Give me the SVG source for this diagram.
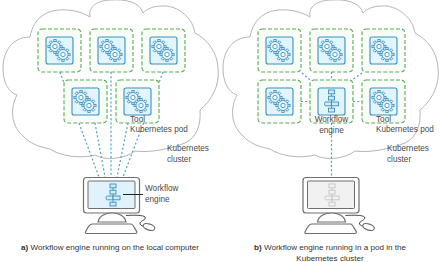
<svg xmlns="http://www.w3.org/2000/svg" xmlns:xlink="http://www.w3.org/1999/xlink" width="441" height="262" viewBox="0 0 441 262">
<style>
text{font-family:"Liberation Sans",Arial,sans-serif;font-size:8.2px;fill:#4a4a4a}
.cap{font-size:8.1px;fill:#333}
.mid{text-anchor:middle}
.cloud{fill:#fff;stroke:#b5b5b5;stroke-width:1}
.link{fill:none;stroke:#4a9fcb;stroke-width:1.2;stroke-dasharray:2 2.2}
.pod{fill:#f8fcf7;stroke:#5aa95a;stroke-width:1.1;stroke-dasharray:4 2}
.icon{fill:#e2f4fc;stroke:#3a90c0;stroke-width:1.1}
.g{fill:#e2f4fc;stroke:#3a90c0;stroke-width:.8}
.gh{fill:#fff;stroke:#3a90c0;stroke-width:.8}
.dev{fill:#fff;stroke:#6e6e6e;stroke-width:1.2}
.f{fill:#cfeaf8;stroke:#3a90c0;stroke-width:.9}
.fl{stroke:#3a90c0;stroke-width:.9}
.f0{fill:#f2f2f2;stroke:#c4c4c4;stroke-width:.9}
.fl0{stroke:#c4c4c4;stroke-width:.9}
</style>
<defs>
<path id="cloud" class="cloud" d="M30 37C12 37 3 52 3 68C3 82 8 92 17 95C10 108 11 125 22 135C30 144 40 147 50 149C60 156 80 159 95 155C105 161 125 159 135 151C150 153 170 149 185 143C197 137 201 125 200 110C212 100 220 85 218 68C217 52 208 40 195 33C192 15 175 5 162 6C153 6 147 9 143 13C140 2 125 -1 112 0C98 0 88 6 90 17C75 8 55 8 45 14C36 19 32 27 30 37Z"/>
<g id="tooth"><rect x="-1.1" y="-6.7" width="2.2" height="3" class="g"/></g>
<g id="gear">
<use xlink:href="#tooth"/><use xlink:href="#tooth" transform="rotate(45)"/><use xlink:href="#tooth" transform="rotate(90)"/><use xlink:href="#tooth" transform="rotate(135)"/><use xlink:href="#tooth" transform="rotate(180)"/><use xlink:href="#tooth" transform="rotate(225)"/><use xlink:href="#tooth" transform="rotate(270)"/><use xlink:href="#tooth" transform="rotate(315)"/>
<circle r="4.8" class="g"/><circle r="2.1" class="gh"/>
</g>
<g id="tool">
<rect x="-21.5" y="-21.5" width="43" height="43" rx="4" class="pod"/>
<rect x="-13.5" y="-13.5" width="27" height="27" rx="2" class="icon"/>
<use xlink:href="#gear" transform="translate(-4.5,-4) scale(1.05)"/>
<use xlink:href="#gear" transform="translate(3.5,4) scale(1.05)"/>
</g>
<g id="flow">
<path class="fl" d="M0 -10V10"/>
<rect x="-3" y="-11" width="6" height="3.8" class="f"/>
<rect x="-3" y="-4.8" width="6" height="3.8" class="f"/>
<rect x="-7" y="1" width="7" height="3.8" rx="1.5" class="f"/>
<rect x="0" y="1" width="7" height="3.8" class="f"/>
<rect x="-3" y="7.2" width="6" height="3.8" class="f"/>
</g>
<g id="flow-idle">
<path class="fl0" d="M0 -10V10"/>
<rect x="-3" y="-11" width="6" height="3.8" class="f0"/>
<rect x="-3" y="-4.8" width="6" height="3.8" class="f0"/>
<rect x="-7" y="1" width="7" height="3.8" rx="1.5" class="f0"/>
<rect x="0" y="1" width="7" height="3.8" class="f0"/>
<rect x="-3" y="7.2" width="6" height="3.8" class="f0"/>
</g>
<g id="computer">
<rect x="83.5" y="177.5" width="56" height="35.5" rx="3" class="dev"/>
<path class="dev" d="M98 222C99 216 105 213 112 213C119 213 125 216 126 222Z"/>
<path class="dev" d="M92 224H131C133 224 135 229 137 232C137 233 136 233.500 135 233.500H87C85.500 233.500 85 233 85.500 232C87 229 89 224 92 224Z"/>
<path fill="none" stroke="#333" stroke-width=".9" d="M126 215.500C134 215 143 215 145 217C147 220 139 221 140 224C141 226 143 226 145 226"/>
<ellipse cx="149" cy="227" rx="6" ry="3" transform="rotate(18 149 227)" class="dev"/>
</g>
</defs>

<g id="cloud-a"><use xlink:href="#cloud"/></g>
<g id="cloud-b"><use xlink:href="#cloud" transform="translate(220,0)"/></g>

<g id="connectors">
<path class="link" d="M60 72L99 177M95 123L105 177M111 72V177M128 123L117 177M163 72L123 177"/>
<path class="link" d="M302 73L310 80M331.500 72V80M362 73L352 80M301 101.500H310M353 101.500H362M331.500 123V177"/>
</g>

<g id="pod-a1"><use xlink:href="#tool" transform="translate(59.500,50.500)"/></g>
<g id="pod-a2"><use xlink:href="#tool" transform="translate(111.500,50.500)"/></g>
<g id="pod-a3"><use xlink:href="#tool" transform="translate(163.500,50.500)"/></g>
<g id="pod-a4"><use xlink:href="#tool" transform="translate(85.500,101.500)"/></g>
<g id="pod-a5"><use xlink:href="#tool" transform="translate(137.500,101.500)"/></g>
<g id="pod-b1"><use xlink:href="#tool" transform="translate(279.500,50.500)"/></g>
<g id="pod-b2"><use xlink:href="#tool" transform="translate(331.500,50.500)"/></g>
<g id="pod-b3"><use xlink:href="#tool" transform="translate(383.500,50.500)"/></g>
<g id="pod-b4"><use xlink:href="#tool" transform="translate(279.500,101.500)"/></g>
<g id="pod-b5"><use xlink:href="#tool" transform="translate(383.500,101.500)"/></g>
<g id="pod-engine">
<rect x="310" y="80" width="43" height="43" rx="4" class="pod"/>
<rect x="318" y="88" width="27" height="27" rx="2" class="icon"/>
<use xlink:href="#flow" transform="translate(331.500,101)"/>
<text class="mid" x="331.500" y="122">Workflow</text>
<text class="mid" x="331.500" y="132.500">engine</text>
</g>

<g id="labels-a">
<text x="130" y="122">Tool</text>
<text x="130" y="131.500">Kubernetes pod</text>
<text x="167" y="151">Kubernetes</text>
<text x="167" y="162">cluster</text>
</g>
<g id="labels-b">
<text x="376" y="122">Tool</text>
<text x="376" y="131.500">Kubernetes pod</text>
<text x="387" y="150.500">Kubernetes</text>
<text x="387" y="162">cluster</text>
</g>

<g id="computer-a">
<use xlink:href="#computer"/>
<rect x="88" y="181" width="47" height="27.500" rx="1" fill="#e0f2fb" stroke="#6e6e6e" stroke-width="1"/>
<use xlink:href="#flow" transform="translate(113,195)"/>
<path d="M123 194.500H143" stroke="#222" stroke-width="1"/>
<text x="145" y="191">Workflow</text>
<text x="145" y="202">engine</text>
</g>
<g id="computer-b">
<use xlink:href="#computer" transform="translate(219.500,0)"/>
<rect x="307.500" y="181" width="47" height="27.500" rx="1" fill="#f1f1f1" stroke="#6e6e6e" stroke-width="1"/>
<use xlink:href="#flow-idle" transform="translate(332,195)"/>
</g>

<g id="captions">
<text class="cap" x="21" y="250"><tspan font-weight="bold">a)</tspan> Workflow engine running on the local computer</text>
<text class="cap mid" x="330" y="250"><tspan font-weight="bold">b)</tspan> Workflow engine running in a pod in the</text>
<text class="cap mid" x="330" y="261">Kubernetes cluster</text>
</g>
</svg>
